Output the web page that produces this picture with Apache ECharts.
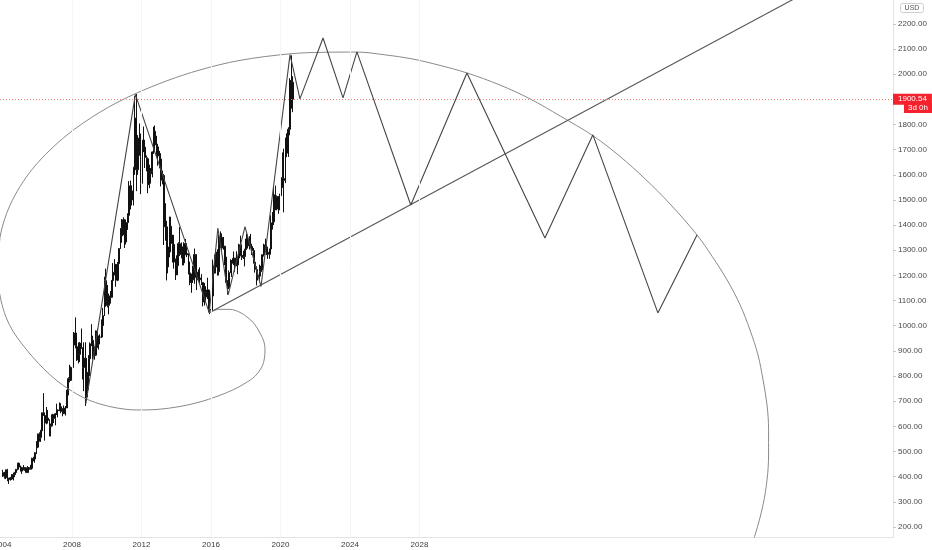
<!DOCTYPE html>
<html><head><meta charset="utf-8">
<script src="https://cdn.jsdelivr.net/npm/echarts@6/dist/echarts.min.js"></script>
<style>html,body{margin:0;padding:0;background:#fff}#c{width:932px;height:550px}</style>
</head><body><div id="c"></div>
<script>
// Monthly XAUUSD bars, Jan 2004 .. Sep 2020
const startYear = 2004;
const firstOpen = 416;
const closes = [
402,396,427,388,394,395,391,408,416,429,453,438,
422,435,428,435,417,436,429,433,473,470,495,517,
569,556,582,654,643,613,633,624,599,604,646,632,
650,665,662,678,659,650,665,673,743,789,783,834,
923,971,917,864,886,930,913,834,871,717,815,869,
928,942,916,883,979,927,955,955,1001,1040,1179,1096,
1081,1118,1113,1180,1213,1244,1181,1247,1307,1357,1386,1421,
1333,1410,1439,1556,1536,1500,1628,1825,1620,1722,1746,1566,
1738,1710,1669,1664,1561,1604,1614,1691,1773,1719,1711,1675,
1663,1579,1597,1472,1393,1234,1313,1395,1327,1323,1253,1202,
1240,1326,1284,1296,1250,1327,1282,1287,1210,1172,1182,1184,
1283,1213,1183,1183,1190,1172,1095,1132,1115,1142,1065,1061,
1118,1238,1233,1293,1215,1322,1351,1309,1316,1273,1173,1151,
1211,1249,1249,1268,1268,1242,1269,1322,1280,1271,1275,1303,
1345,1318,1325,1315,1299,1253,1224,1201,1192,1215,1222,1282,
1321,1313,1292,1284,1305,1409,1413,1520,1472,1513,1464,1517,
1589,1585,1577,1686,1730,1781,1975,1968,1900.54
];
const highs = [
427,419,428,431,395,399,410,416,419,430,455,456,
444,439,446,438,436,442,437,447,475,479,497,541,
571,576,586,654,732,645,677,665,628,611,650,648,
653,690,666,695,692,672,683,681,745,795,845,838,
934,975,1033,951,933,935,989,913,934,934,830,883,
934,1006,960,914,981,989,961,966,1025,1071,1195,1227,
1162,1128,1138,1180,1249,1265,1244,1254,1307,1388,1424,1431,
1424,1411,1447,1575,1577,1557,1632,1913,1921,1758,1804,1764,
1764,1792,1722,1677,1669,1640,1627,1693,1791,1796,1755,1723,
1695,1686,1617,1603,1487,1417,1348,1434,1433,1362,1361,1267,
1280,1332,1392,1331,1315,1332,1345,1322,1287,1255,1207,1238,
1307,1284,1223,1224,1232,1205,1170,1170,1157,1191,1144,1089,
1128,1263,1283,1304,1304,1362,1375,1367,1353,1318,1306,1181,
1220,1264,1261,1295,1270,1296,1274,1326,1358,1306,1298,1306,
1366,1362,1356,1365,1317,1309,1266,1236,1214,1243,1238,1284,
1326,1346,1324,1310,1306,1439,1452,1555,1557,1518,1516,1525,
1611,1689,1704,1748,1765,1789,1984,2075,1992
];
const lows = [
399,392,390,382,371,384,387,385,398,411,425,430,
420,411,425,423,414,414,417,428,431,461,455,490,
513,539,538,582,641,543,608,612,560,560,600,613,
604,645,636,663,652,640,649,643,673,723,775,780,
834,880,910,860,850,856,908,786,740,681,705,745,
800,919,866,865,880,912,905,934,951,1000,1043,1075,
1073,1045,1088,1111,1158,1200,1155,1177,1242,1316,1330,1360,
1309,1323,1381,1418,1462,1478,1478,1600,1535,1600,1676,1523,
1527,1690,1627,1614,1527,1547,1565,1590,1683,1692,1672,1636,
1626,1554,1562,1321,1338,1180,1208,1272,1292,1251,1227,1182,
1202,1238,1277,1268,1240,1240,1281,1273,1204,1161,1131,1170,
1167,1191,1142,1178,1170,1162,1077,1080,1099,1106,1053,1046,
1062,1110,1207,1208,1199,1200,1310,1301,1302,1241,1171,1124,
1146,1209,1194,1241,1214,1237,1205,1264,1276,1261,1265,1236,
1302,1307,1303,1310,1281,1247,1211,1160,1180,1183,1196,1221,
1275,1302,1281,1266,1266,1301,1382,1400,1459,1459,1445,1459,
1517,1548,1451,1567,1670,1671,1757,1863,1849
];

// Drawings (year, price)
const zigzag = [
[2008.8,690],[2011.65,1920],[2015.9,1052],[2016.4,1388],[2016.99,1123],[2017.96,1394],
[2018.88,1156],[2020.55,2078],[2021.12,1902],[2022.45,2144],[2023.6,1906],[2024.4,2089],
[2027.5,1480],[2030.73,2005],[2035.22,1349],[2037.98,1759],[2041.72,1051],[2043.97,1361]
];
const trendRay = [[2015.9,1052],[2052,2390]];
const spiral = [
[2015.9,1052],[2016.46,1065],[2017.09,1065],[2017.67,1053],[2018.07,1035],[2018.48,1009],
[2018.82,971],[2019.05,936],[2019.11,904],[2019.08,872],[2018.94,838],[2018.53,799],
[2017.96,771],[2017.27,745],[2016.35,719],[2015.37,697],[2014.22,679],[2012.89,667],
[2011.74,665],[2010.59,673],[2009.61,689],[2008.63,715],[2007.89,745],[2007.14,781],
[2006.45,824],[2005.76,874],[2005.12,928],[2004.6,979],[2004.2,1035],[2003.91,1103],
[2003.77,1162],[2003.74,1230],[2003.8,1294],[2003.86,1352],[2004.09,1416],[2004.43,1478],
[2005.01,1553],[2005.76,1626],[2006.73,1698],[2007.71,1758],[2008.63,1805],[2009.61,1849],
[2010.59,1887],[2011.63,1922],[2013.47,1974],[2015.37,2017],[2017.67,2055],[2020.55,2081],
[2022.45,2087],[2024.4,2088],[2026.01,2077],[2027.57,2061],[2029.18,2035],[2030.73,2005],
[2032.63,1957],[2034.36,1902],[2036.09,1834],[2037.99,1755],[2039.54,1673],[2040.98,1584],
[2042.42,1484],[2043.97,1361],[2044.84,1276],[2045.7,1182],[2046.45,1083],[2047.02,983],
[2047.48,884],[2047.77,785],[2048.0,685],[2048.09,586],[2048.09,486],[2048.0,387],
[2047.77,288],[2047.31,168],[2046.76,69]
];
const lastPrice = 1900.54;
const yTicks = [200,300,400,500,600,700,800,900,1000,1100,1200,1300,1400,1500,1600,1700,1800,1900,2000,2100,2200];
const xTicks = [2004,2008,2012,2016,2020,2024,2028];

const candles = closes.map((c, i) => [startYear + (i + 0.5) / 12, i ? closes[i - 1] : firstOpen, c, lows[i], highs[i]]);

const FONT = 'Liberation Sans, Arial, sans-serif';
const chart = echarts.init(document.getElementById('c'), null, {renderer: 'canvas'});
chart.setOption({
  animation: false,
  backgroundColor: '#ffffff',
  grid: {left: 0, right: 39, top: 0, bottom: 13, containLabel: false, outerBoundsMode: 'none'},
  xAxis: {
    type: 'value', min: 2003.86, max: 2055.25,
    axisLine: {show: true, lineStyle: {color: '#e3e3e3'}},
    axisTick: {show: false, customValues: xTicks},
    splitLine: {show: false},
    axisLabel: {customValues: xTicks, formatter: v => String(v), fontSize: 8, color: '#3a3a3a', fontFamily: FONT, margin: 4, hideOverlap: false}
  },
  yAxis: {
    type: 'value', position: 'right', min: 160, max: 2295,
    axisLine: {show: true, lineStyle: {color: '#e3e3e3'}},
    axisTick: {show: true, length: 3, customValues: yTicks, lineStyle: {color: '#c8c8c8'}},
    splitLine: {show: false},
    axisLabel: {customValues: yTicks, formatter: v => v.toFixed(2), fontSize: 8, color: '#4a4a4a', fontFamily: FONT, margin: 5}
  },
  series: [
    {
      type: 'candlestick', name: 'XAUUSD',
      dimensions: ['x', 'open', 'close', 'low', 'high'],
      encode: {x: 0, y: [1, 2, 3, 4]},
      data: candles,
      barWidth: 1.4,
      silent: true,
      itemStyle: {color: '#111', color0: '#111', borderColor: '#111', borderColor0: '#111', borderWidth: 1},
      markLine: {
        silent: true, symbol: 'none', animation: false,
        data: xTicks.slice(1).map(v => ({xAxis: v, lineStyle: {color: '#f5f5f5', width: 1, type: 'solid'}, label: {show: false}})).concat([
          {yAxis: lastPrice,
           lineStyle: {color: '#f08080', width: 1, type: [1, 2]},
           label: {show: true, position: 'end', distance: 0, formatter: lastPrice.toFixed(2),
                   color: '#fff', backgroundColor: '#f5222d', padding: [2, 5, 1, 5], fontSize: 8, fontFamily: FONT}}
        ])
      }
    },
    {type: 'line', name: 'spiral', data: spiral, smooth: 0.35, showSymbol: false, silent: true,
     lineStyle: {color: '#8a8a8a', width: 1}},
    {type: 'line', name: 'trend', data: trendRay, showSymbol: false, silent: true,
     lineStyle: {color: '#555', width: 1.1}},
    {type: 'line', name: 'zigzag', data: zigzag, showSymbol: false, silent: true,
     lineStyle: {color: '#444', width: 1.1}}
  ],
  graphic: [
    {type: 'group', left: 900, top: 3, children: [
      {type: 'rect', shape: {x: 0, y: 0, width: 23, height: 9, r: 2}, style: {fill: '#fff', stroke: '#d0d0d0', lineWidth: 1}},
      {type: 'text', style: {x: 11.5, y: 4.5, text: 'USD', fill: '#555', fontSize: 7, fontFamily: FONT, align: 'center', verticalAlign: 'middle'}}
    ]},
    {type: 'group', left: 904, top: 103, children: [
      {type: 'rect', shape: {x: 0, y: 0, width: 28, height: 10}, style: {fill: '#f5222d'}},
      {type: 'text', style: {x: 14, y: 5, text: '3d 0h', fill: '#fff', fontSize: 8, fontFamily: FONT, align: 'center', verticalAlign: 'middle'}}
    ]}
  ]
});
</script></body></html>
